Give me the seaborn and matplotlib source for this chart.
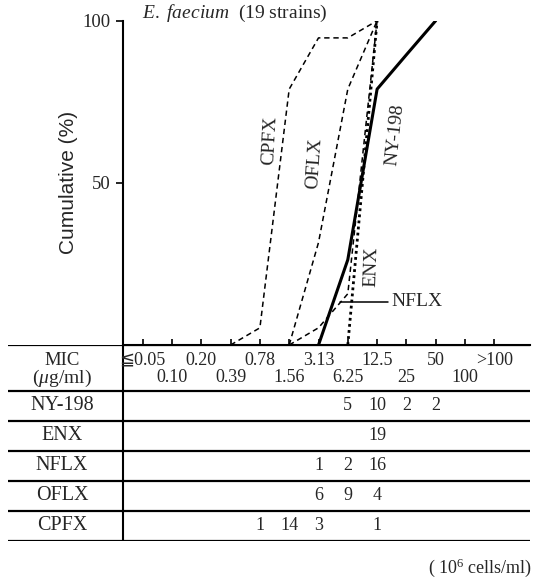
import matplotlib
matplotlib.use("Agg")
import matplotlib.pyplot as plt
import seaborn as sns
import pandas as pd

# ---------------- data ----------------
mic_labels = ["≦0.05", "0.10", "0.20", "0.39", "0.78", "1.56", "3.13",
              "6.25", "12.5", "25", "50", "100", ">100"]
drugs = ["NY-198", "ENX", "NFLX", "OFLX", "CPFX"]

# strain counts per MIC column (None = blank)
ny198_counts = [None, None, None, None, None, None, None, 5, 10, 2, 2, None, None]
enx_counts = [None, None, None, None, None, None, None, None, 19, None, None, None, None]
nflx_counts = [None, None, None, None, None, None, 1, 2, 16, None, None, None, None]
oflx_counts = [None, None, None, None, None, None, 6, 9, 4, None, None, None, None]
cpfx_counts = [None, None, None, None, 1, 14, 3, None, 1, None, None, None, None]

# cumulative curves (MIC category, cumulative %)
ny198_mic = ["3.13", "6.25", "12.5", "25", "50"]
ny198_cum = [0, 26.3, 78.9, 89.5, 100]
enx_mic = ["6.25", "12.5"]
enx_cum = [0, 100]
nflx_mic = ["1.56", "3.13", "6.25", "12.5"]
nflx_cum = [0, 5.3, 15.8, 100]
oflx_mic = ["1.56", "3.13", "6.25", "12.5"]
oflx_cum = [0, 31.6, 78.9, 100]
cpfx_mic = ["0.39", "0.78", "1.56", "3.13", "6.25", "12.5"]
cpfx_cum = [0, 5.3, 78.9, 94.7, 94.7, 100]

y_ticks = [50, 100]

# ---------------- style ----------------
sns.set_theme(style="ticks")
plt.rcParams["font.family"] = ["Liberation Serif", "DejaVu Serif"]
plt.rcParams["mathtext.fontset"] = "custom"
plt.rcParams["mathtext.rm"] = "Liberation Serif"
plt.rcParams["mathtext.it"] = "Liberation Serif:italic"

W, H = 539, 579
fig = plt.figure(figsize=(W / 100, H / 100), dpi=100)

# pixel geometry
px_first, px_step = 142.7, 29.3
ax_left_px, ax_right_px = 122.7, 530.0
y0_px, y100_px = 345.0, 20.7
tab_left_px, tab_bottom_px = 8.0, 541.0

def xi(px):
    return (px - px_first) / px_step

ax = fig.add_axes([ax_left_px / W, (H - y0_px) / H,
                   (ax_right_px - ax_left_px) / W, (y0_px - y100_px) / H])
ax.set_xlim(xi(ax_left_px), xi(ax_right_px))
ax.set_ylim(0, 100)

pos = {m: i for i, m in enumerate(mic_labels)}

def frame(mics, vals):
    return pd.DataFrame({"x": [pos[m] for m in mics], "y": vals})

dash = (0, (3.5, 2.5))
sns.lineplot(data=frame(cpfx_mic, cpfx_cum), x="x", y="y", ax=ax, color="black",
             lw=1.1, linestyle=dash, sort=False)
sns.lineplot(data=frame(oflx_mic, oflx_cum), x="x", y="y", ax=ax, color="black",
             lw=1.1, linestyle=dash, sort=False)
sns.lineplot(data=frame(nflx_mic, nflx_cum), x="x", y="y", ax=ax, color="black",
             lw=1.1, linestyle=dash, sort=False)
sns.lineplot(data=frame(enx_mic, enx_cum), x="x", y="y", ax=ax, color="black",
             lw=2.0, linestyle=(0, (1, 1.2)), sort=False)
sns.lineplot(data=frame(ny198_mic, ny198_cum), x="x", y="y", ax=ax, color="black",
             lw=2.2, linestyle="-", sort=False)

ax.set_xlabel("")
ax.set_ylabel("Cumulative (%)", family=["Liberation Sans", "DejaVu Sans"],
              fontsize=15, labelpad=3)
ax.set_xticks(range(len(mic_labels)))
ax.set_xticklabels([])
ax.tick_params(axis="x", direction="in", length=4, width=1.2, color="black")
ax.set_yticks(y_ticks)
ax.set_yticklabels([str(v) for v in y_ticks], fontsize=13.5)
ax.tick_params(axis="y", direction="out", length=5, width=1.2, pad=4, color="black")
for s in ["top", "right"]:
    ax.spines[s].set_visible(False)
for s in ["left", "bottom"]:
    ax.spines[s].set_linewidth(1.5)
    ax.spines[s].set_color("black")

# curve labels
def yv(px):
    return (y0_px - px) / (y0_px - y100_px) * 100

ax.text(xi(270), yv(140), "CPFX", rotation=87, ha="center", va="center", fontsize=14)
ax.text(xi(315), yv(163), "OFLX", rotation=86, ha="center", va="center", fontsize=14)
ax.text(xi(395), yv(135), "NY-198", rotation=84, ha="center", va="center", fontsize=14)
ax.text(xi(372), yv(267), "ENX", rotation=88, ha="center", va="center", fontsize=14)
ax.plot([xi(340), xi(388)], [yv(302), yv(302)], color="black", lw=1.1)
ax.text(xi(391), yv(302), "NFLX", ha="left", va="center", fontsize=14)

# title
ax.text(xi(142), yv(18), "$\\it{E.\\ faecium}$  (19 strains)", fontsize=14,
        ha="left", va="baseline", clip_on=False)

# ---------------- table ----------------
tab = fig.add_axes([tab_left_px / W, (H - tab_bottom_px) / H,
                    (ax_right_px - tab_left_px) / W, (tab_bottom_px - y0_px) / H])
tab.set_xlim(xi(tab_left_px), xi(ax_right_px))
tab.set_ylim(tab_bottom_px - y0_px, 0)
tab.axis("off")

row_lines = [0, 46, 76, 106, 136, 166, 196]
for yl in row_lines:
    tab.axhline(yl, color="black", lw=1.6)
tab.plot([xi(ax_left_px), xi(ax_left_px)], [0, 196], color="black", lw=1.5)

lab_x = xi(62)
tab.text(lab_x, 20, "MIC", ha="center", va="baseline", fontsize=13.5)
tab.text(lab_x, 38, "($\\mu$g/ml)", ha="center", va="baseline", fontsize=14)
for i, lab in enumerate(mic_labels):
    yy = 15.5 if i % 2 == 0 else 33
    tab.text(i, yy, lab, ha="center", va="center", fontsize=13,
             family=["Liberation Serif", "DejaVu Sans"])

row_counts = [ny198_counts, enx_counts, nflx_counts, oflx_counts, cpfx_counts]
for r, (name, counts) in enumerate(zip(drugs, row_counts)):
    yc = (row_lines[r + 1] + row_lines[r + 2]) / 2
    tab.text(lab_x, yc, name, ha="center", va="center", fontsize=14.5)
    for i, c in enumerate(counts):
        if c is not None:
            tab.text(i, yc, str(c), ha="center", va="center", fontsize=13)

fig.text(532 / W, 1 - 568 / H, "( 10$^6$ cells/ml)", ha="right", va="center",
         fontsize=13)

fig.savefig("out.png", dpi=100, facecolor="white")
